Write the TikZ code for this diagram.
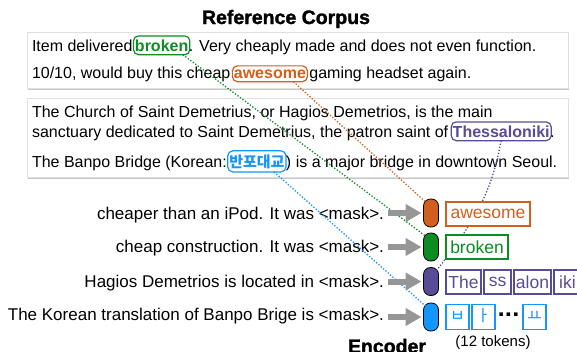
\documentclass[tikz,border=0pt]{standalone}
\usepackage{fontspec}
\setmainfont{Liberation Sans}
\newfontfamily\kor{Noto Sans CJK KR}
\newfontfamily\heavy[FakeBold=1.5]{Liberation Sans Bold}
\usetikzlibrary{arrows.meta,shadows,calc}
\definecolor{corange}{RGB}{210,95,30}
\definecolor{cgreen}{RGB}{12,140,35}
\definecolor{cpurple}{RGB}{90,75,150}
\definecolor{cblue}{RGB}{20,150,255}
\definecolor{cgray}{RGB}{150,150,150}
\begin{document}
\begin{tikzpicture}[x=1pt,y=-1pt,
  every node/.style={font=\fontsize{16}{19}\selectfont, inner sep=0pt, outer sep=0pt},
  txt/.style={anchor=base west},
  hl/.style={draw=#1, text=#1, rounded corners=5pt, line width=1.2pt, inner xsep=1.5pt, inner ysep=3.5pt, font=\fontsize{16}{19}\selectfont\bfseries, anchor=base west},
  corpus/.style={fill=white, draw=black!12, line width=0.4pt, drop shadow={shadow xshift=1pt, shadow yshift=-2pt, opacity=0.45}},
  link/.style={draw=#1, line width=1.3pt, dash pattern=on 1.3pt off 1.8pt},
  feed/.style={draw=cgray, line width=6pt, -{Triangle[length=16pt,width=17pt]}},
  capsule/.style={draw=black, fill=#1, line width=0.8pt, rounded corners=7pt, minimum width=15pt, minimum height=28pt},
  query/.style={anchor=base east, font=\fontsize{17}{20}\selectfont},
  tok/.style={draw=#1, text=#1, line width=1.1pt, minimum height=24pt, anchor=west, fill=white, font=\fontsize{17.5}{20}\selectfont},
  jamo/.style={draw=#1, text=#1, line width=1.1pt, minimum height=25pt, text height=10pt, text depth=1pt, anchor=west, fill=white, font=\kor\fontsize{16}{18}\selectfont},
  heading/.style={font=\heavy\fontsize{19.5}{22}\selectfont, anchor=base}
]
\useasboundingbox (0,0) rectangle (577,351);

\node[heading] (title) at (286,24) {Reference Corpus};

% corpus boxes
\path[corpus] (27,32) rectangle (568,88);
\path[corpus] (27,98) rectangle (568,177);

% line 1
\node[txt] (l1a) at (32,51) {Item delivered};
\node[hl=cgreen] (wbroken) at ([xshift=1pt]l1a.base east) {broken};
\node[txt] (l1b) at ([xshift=-1pt]wbroken.base east) {. Very cheaply made and does not even function.};
% line 2
\node[txt] (l2a) at (32,78) {10/10, would buy this cheap};
\node[hl=corange] (wawesome) at ([xshift=2pt]l2a.base east) {awesome};
\node[txt] (l2b) at ([xshift=2pt]wawesome.base east) {gaming headset again.};
% line 3-5
\node[txt] (l3) at (32,117) {The Church of Saint Demetrius, or Hagios Demetrios, is the main};
\node[txt] (l4a) at (32,137) {sanctuary dedicated to Saint Demetrius, the patron saint of};
\node[hl=cpurple] (wthess) at ([xshift=3pt]l4a.base east) {Thessaloniki};
\node[txt] (l4b) at ([xshift=-1pt]wthess.base east) {.};
\node[txt] (l5a) at (32,167) {The Banpo Bridge (Korean:};
\node[hl=cblue, font=\kor\fontsize{15}{18}\selectfont\bfseries] (wbanpo) at ([xshift=1pt]l5a.base east) {반포대교};
\node[txt] (l5b) at ([xshift=0pt]wbanpo.base east) {) is a major bridge in downtown Seoul.};

% queries
\node[query] (q1) at (384,219) {cheaper than an iPod. It was <mask>.};
\node[query] (q2) at (384,252) {cheap construction. It was <mask>.};
\node[query] (q3) at (384,287) {Hagios Demetrios is located in <mask>.};
\node[query] (q4) at (384,320) {The Korean translation of Banpo Brige is <mask>.};

% encoder capsules
\node[capsule=corange] (e1) at (431,213) {};
\node[capsule=cgreen] (e2) at (431,247) {};
\node[capsule=cpurple] (e3) at (431,281.5) {};
\node[capsule=cblue] (e4) at (431,317) {};
\node[heading] (enc) at (387,353) {Encoder};

% purple link (behind output tokens)
\draw[link=cpurple] ([xshift=-50pt]wthess.south east) .. controls (492,188) and (480,215) .. ($(e3.north east)+(-2,3)$);

% output tokens
\node[tok=corange, minimum width=84pt] (o1) at (446,214) {awesome};
\node[tok=cgreen, minimum width=62pt] (o2) at (446,247) {broken};
\node[tok=cpurple, minimum width=35pt] (p1) at (446,282) {The};
\node[tok=cpurple, minimum width=27pt] (p2) at ([xshift=3pt]p1.east) {ss};
\node[tok=cpurple, minimum width=37pt] (p3) at ([xshift=3pt]p2.east) {alon};
\node[tok=cpurple, minimum width=27pt] (p4) at ([xshift=3pt]p3.east) {iki};
\node[jamo=cblue, minimum width=23pt] (b1) at (446,317) {ㅂ};
\node[jamo=cblue, minimum width=23pt] (b2) at ([xshift=3pt]b1.east) {ㅏ};
\node[anchor=west, font=\heavy\fontsize{22}{24}\selectfont] (bdots) at ([xshift=3pt]b2.east) {···};
\node[jamo=cblue, minimum width=23pt] (b3) at ([xshift=3pt]bdots.east) {ㅛ};
\node[anchor=base, font=\fontsize{15}{18}\selectfont] (ntok) at (493,346) {(12 tokens)};

\draw[link=cgreen] ([xshift=-7pt]wbroken.south east) -- ($(e2.north west)+(2,3)$);
\draw[link=corange] ([xshift=-14pt]wawesome.south east) -- ($(e1.north west)+(2,3)$);
\draw[link=cblue] ([xshift=-12pt]wbanpo.south east) -- ($(e4.north west)+(2,3)$);

% arrows
\foreach \q/\e in {q1/e1,q2/e2,q3/e3,q4/e4}
  \draw[feed] ([xshift=4pt]\q.east |- \e.west) -- ([xshift=-2pt]\e.west);
\end{tikzpicture}
\end{document}
